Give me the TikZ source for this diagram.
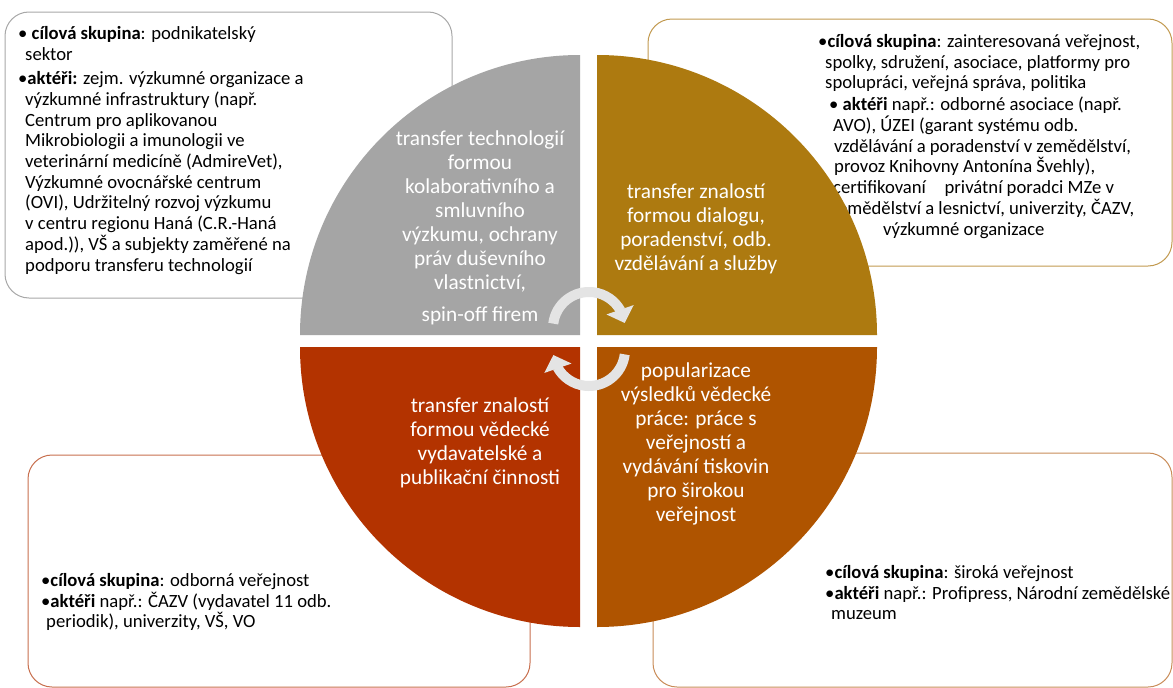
\documentclass[tikz,border=0pt]{standalone}
\usepackage{fontspec}
\setmainfont{Carlito}
\usetikzlibrary{arrows.meta,bending}

\definecolor{pgray}{HTML}{A5A5A5}
\definecolor{pgold}{HTML}{AD7A10}
\definecolor{pred}{HTML}{B33300}
\definecolor{pbrown}{HTML}{AF5400}
\definecolor{bgray}{HTML}{A8A8A8}
\definecolor{bgold}{HTML}{C29A50}
\definecolor{bred}{HTML}{C8704F}
\definecolor{bbrown}{HTML}{C98C58}
\definecolor{arrgray}{HTML}{E4E4E4}

\begin{document}
\begin{tikzpicture}[x=1pt, y=-1pt,
    box/.style={rounded corners=24pt, line width=1pt},
    txt/.style={inner sep=0pt, anchor=north west, align=left, font=\fontsize{18.67}{20.7}\selectfont},
    qtxt/.style={inner sep=0pt, anchor=north, align=center, text=white, font=\fontsize{21.3}{24}\selectfont},
    arr/.style={line width=10pt, draw=arrgray, -{Triangle[width=28pt, length=14pt]}}]

        \fill[white] (0,0) rectangle (1173,688);
        \useasboundingbox (0,0) rectangle (1173,688);

        \coordinate (gc) at (580,335);
        \coordinate (oc) at (597,335);
        \coordinate (rc) at (580,347);
        \coordinate (bc) at (597,347);

        \draw[box, draw=bgray] (5,12) rectangle (452,298);
        \draw[box, draw=bgold] (648,19) rectangle (1172,266);
        \draw[box, draw=bred] (28,455) rectangle (530,687);
        \draw[box, draw=bbrown] (653,453) rectangle (1172,687);

        \node[txt] (tl) at (18,26) {• \textbf{cílová skupina}: podnikatelský\\
            \hspace*{7pt}sektor\\[4pt]
            •\textbf{aktéři:} zejm. výzkumné organizace a\\
            \hspace*{7pt}výzkumné infrastruktury (např.\\
            \hspace*{7pt}Centrum pro aplikovanou\\
            \hspace*{7pt}Mikrobiologii a imunologii ve\\
            \hspace*{7pt}veterinární medicíně (AdmireVet),\\
            \hspace*{7pt}Výzkumné ovocnářské centrum\\
            \hspace*{7pt}(OVI), Udržitelný rozvoj výzkumu\\
            \hspace*{7pt}v centru regionu Haná (C.R.-Haná\\
            \hspace*{7pt}apod.)), VŠ a subjekty zaměřené na\\
            \hspace*{7pt}podporu transferu technologií};

        \node[txt] (tr1) at (818,34) {•\textbf{cílová skupina}: zainteresovaná veřejnost,\\
            \hspace*{7pt}spolky, sdružení, asociace, platformy pro\\
            \hspace*{7pt}spolupráci, veřejná správa, politika};
        \node[txt] (tr2) at (829,97) {• \textbf{aktéři} např.: odborné asociace (např.\\
            \hspace*{4pt}AVO), ÚZEI (garant systému odb.\\
            \hspace*{5pt}vzdělávání a poradenství v zemědělství,\\
            \hspace*{5pt}provoz Knihovny Antonína Švehly),\\
            \hspace*{4pt}certifikovaní\quad privátní poradci MZe v\\
            \hspace*{2pt}zemědělství a lesnictví, univerzity, ČAZV,\\
            \hspace*{54pt}výzkumné organizace};

        \node[txt] (bl) at (41,573) {•\textbf{cílová skupina}: odborná veřejnost\\
            •\textbf{aktéři} např.: ČAZV (vydavatel 11 odb.\\
            \hspace*{5pt}periodik), univerzity, VŠ, VO};

        \node[txt] (br) at (825,565) {•\textbf{cílová skupina}: široká veřejnost\\
            •\textbf{aktéři} např.: Profipress, Národní zemědělské\\
            \hspace*{6pt}muzeum};

        \fill[pgray] (gc) -- (300,335) arc[start angle=180, end angle=270, radius=280] -- cycle;
        \fill[pgold] (oc) -- (597,55) arc[start angle=270, end angle=360, radius=280] -- cycle;
        \fill[pred] (rc) -- (580,627) arc[start angle=90, end angle=180, radius=280] -- cycle;
        \fill[pbrown] (bc) -- (877,347) arc[start angle=0, end angle=90, radius=280] -- cycle;

        \node[qtxt] (gt) at (480,131) {transfer technologií\\formou\\kolaborativního a\\smluvního\\výzkumu, ochrany\\práv duševního\\vlastnictví,\\[8pt]spin-off firem};
        \node[qtxt] (ot) at (696,184) {transfer znalostí\\formou dialogu,\\poradenství, odb.\\vzdělávání a služby};
        \node[qtxt] (rt) at (480,398) {transfer znalostí\\formou vědecké\\vydavatelské a\\publikační činnosti};
        \node[qtxt] (bt) at (696,363) {popularizace\\výsledků vědecké\\práce: práce s\\veřejností a\\vydávání tiskovin\\pro širokou\\veřejnost};

        \draw[arr] (589,328) ++(187:36) arc[start angle=187, end angle=352, radius=36];
        \draw[arr] (589,350) ++(7:36) arc[start angle=7, end angle=172, radius=36];

    \end{tikzpicture}
\end{document}
